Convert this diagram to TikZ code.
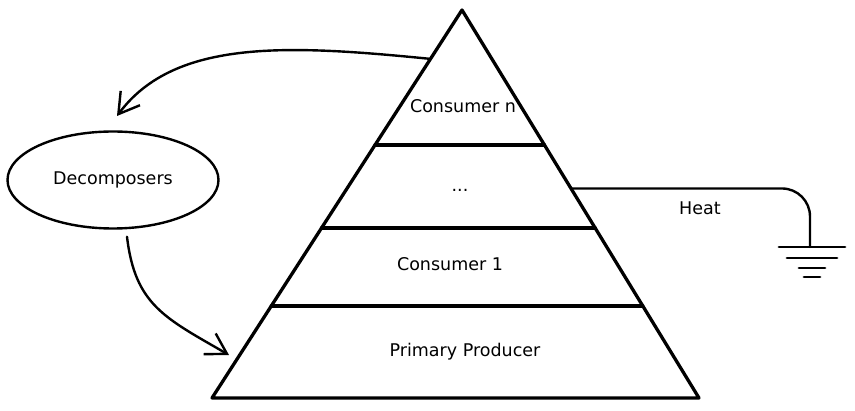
\documentclass[tikz,border=0pt]{standalone}
\usepackage{fontspec}
\setsansfont{DejaVu Sans}
\usepackage{tikz}
\usetikzlibrary{arrows.meta}
\usetikzlibrary{calc}
\usetikzlibrary{positioning}
\usetikzlibrary{shapes.geometric}

\tikzset{
	level/.style={line width=3.3pt},
	flow/.style={line width=2.4pt,-{Straight Barb[length=20pt,width=24pt,line width=2.4pt]}},
	lbl/.style={font=\sffamily\fontsize{17.5}{20}\selectfont}
}

\begin{document}
\begin{tikzpicture}[x=1pt,y=-1pt,line cap=round,line join=round]
		\useasboundingbox (0,0) rectangle (855,411);

		\coordinate (apex) at (462,10);
		\coordinate (bl) at (212,398);
		\coordinate (br) at (699,398);

		\draw [level] (bl) -- (apex) -- (br) -- cycle;
		\foreach \t [count=\i] in {0.348,0.562,0.763} {
			\draw [level] ($(apex)!\t!(bl)$) -- ($(apex)!\t!(br)$);
		}

		\node [lbl] (cn) at (463,106) {Consumer n};
		\node [lbl] (dots) at (460,190) {...};
		\node [lbl] (c1) at (450,264) {Consumer 1};
		\node [lbl] (pp) at (465,352) {Primary Producer};

		\node [draw,ellipse,line width=2.4pt,minimum width=211pt,minimum height=97pt,lbl] (deco) at (113,180) {Decomposers};

		\coordinate (out) at ($(apex)!0.126!(bl)$);
		\coordinate (in) at (229,355);
		\draw [flow] (out) .. controls (290,45) and (175,38) .. (117,116);
		\draw [flow] ($(deco.south)+(14,7)$) .. controls (135,305) and (165,318) .. (in);

		% heat to ground
		\coordinate (hs) at ($(apex)!0.46!(br)$);
		\coordinate (gnd) at (810,247);
		\draw [line width=2.4pt,rounded corners=28pt] (hs) -- (hs -| gnd) -- (gnd);
		\foreach \w/\dy in {33/0,25/11,13/21,8/30} {
			\draw [line width=2.8pt] ($(gnd)+(2-\w,\dy)$) -- ($(gnd)+(2+\w,\dy)$);
		}
		\node [lbl] (heat) at (700,208) {Heat};
	\end{tikzpicture}
\end{document}
